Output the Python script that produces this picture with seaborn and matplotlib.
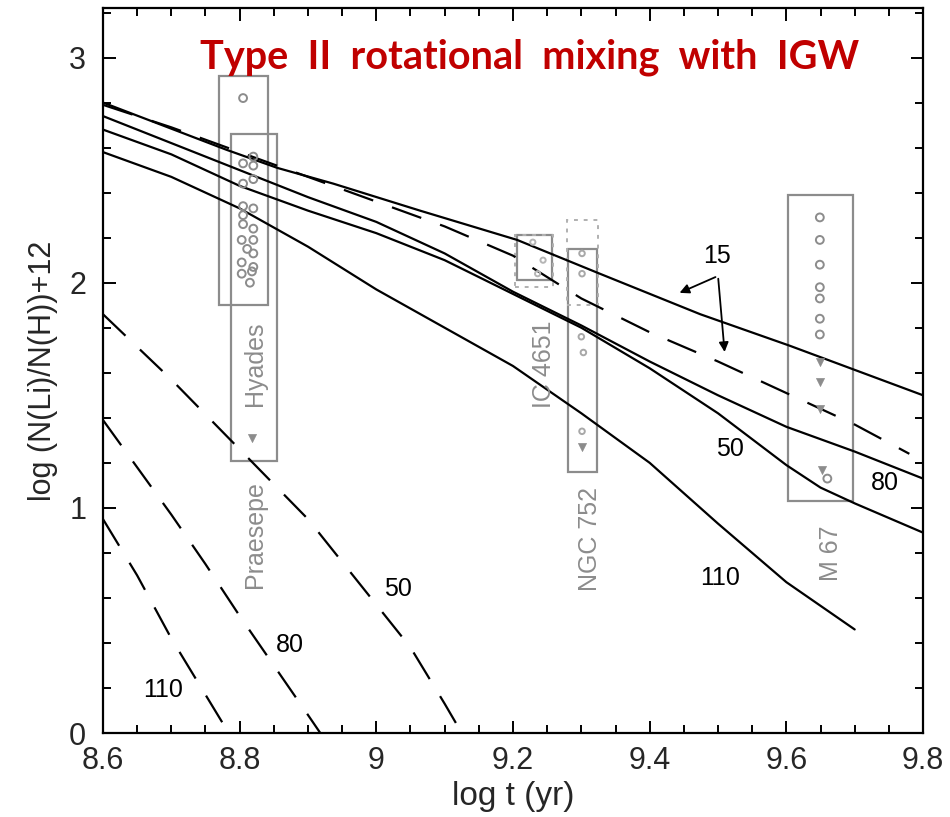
import numpy as np
import pandas as pd
import seaborn as sns
import matplotlib.pyplot as plt
from matplotlib.patches import Rectangle
from matplotlib.ticker import MultipleLocator

# --- model tracks with IGW (solid), label = initial velocity (km/s)
t_15 = [8.6, 8.669, 8.781, 8.855, 8.937, 9.064, 9.206, 9.327, 9.474, 9.605, 9.8]
li_15 = [2.80, 2.72, 2.59, 2.51, 2.44, 2.32, 2.19, 2.04, 1.86, 1.72, 1.50]

t_50 = [8.6, 8.7, 8.8, 8.9, 9.0, 9.1, 9.2, 9.3, 9.4, 9.5, 9.6, 9.7, 9.8]
li_50 = [2.74, 2.62, 2.50, 2.38, 2.27, 2.13, 1.96, 1.81, 1.65, 1.50, 1.36, 1.25, 1.13]

t_80 = [8.6, 8.7, 8.8, 8.9, 9.0, 9.1, 9.2, 9.3, 9.4, 9.5, 9.6, 9.65, 9.7, 9.8]
li_80 = [2.68, 2.57, 2.43, 2.32, 2.22, 2.10, 1.95, 1.80, 1.62, 1.42, 1.19, 1.09, 1.02, 0.89]

t_110 = [8.6, 8.7, 8.8, 8.9, 9.0, 9.1, 9.2, 9.3, 9.4, 9.5, 9.6, 9.7]
li_110 = [2.58, 2.47, 2.33, 2.16, 1.97, 1.80, 1.63, 1.42, 1.20, 0.93, 0.67, 0.46]

# --- dashed tracks (no IGW)
td_15 = [8.6, 8.7, 8.8, 8.9, 9.0, 9.1, 9.2, 9.3, 9.4, 9.5, 9.6, 9.7, 9.78]
lid_15 = [2.79, 2.69, 2.58, 2.47, 2.36, 2.25, 2.12, 1.93, 1.78, 1.65, 1.51, 1.37, 1.24]

td_50 = [8.6, 8.7, 8.8, 8.9, 9.0, 9.05, 9.1, 9.125]
lid_50 = [1.86, 1.57, 1.26, 0.95, 0.57, 0.38, 0.13, 0.0]

td_80 = [8.6, 8.65, 8.7, 8.75, 8.8, 8.85, 8.9, 8.918]
lid_80 = [1.39, 1.18, 0.97, 0.75, 0.52, 0.30, 0.08, 0.0]

td_110 = [8.6, 8.65, 8.7, 8.75, 8.784]
lid_110 = [0.95, 0.70, 0.42, 0.17, 0.0]

# --- cluster observations
hy_t = [8.805, 8.820, 8.805, 8.820, 8.805, 8.820, 8.805, 8.820, 8.805, 8.805,
        8.820, 8.803, 8.820, 8.811, 8.820, 8.803, 8.820, 8.803, 8.818, 8.815]
hy_li = [2.82, 2.56, 2.53, 2.52, 2.44, 2.46, 2.34, 2.33, 2.30, 2.26,
         2.24, 2.19, 2.19, 2.15, 2.13, 2.09, 2.07, 2.04, 2.05, 2.00]
hy_up_t = [8.818]
hy_up_li = [1.31]

ic_t = [9.229, 9.244, 9.236]
ic_li = [2.18, 2.10, 2.04]

ngc_t = [9.301, 9.301, 9.300, 9.303, 9.301]
ngc_li = [2.13, 2.04, 1.76, 1.69, 1.34]
ngc_up_t = [9.301]
ngc_up_li = [1.27]

m67_t = [9.649, 9.649, 9.649, 9.649, 9.649, 9.649, 9.649, 9.660]
m67_li = [2.29, 2.19, 2.08, 1.98, 1.93, 1.84, 1.77, 1.13]
m67_up_t = [9.649, 9.649, 9.649, 9.652]
m67_up_li = [1.65, 1.56, 1.44, 1.17]

sns.set_theme(style="ticks")
plt.rcParams['font.family'] = ['Liberation Sans', 'DejaVu Sans']

fig = plt.figure(figsize=(9.5, 8.17), dpi=100)
ax = fig.add_axes([0.1084, 0.1028, 0.8632, 0.8874])

gray = '#8c8c8c'
dash = (0, (14, 9))

for t, li in [(t_15, li_15), (t_50, li_50), (t_80, li_80), (t_110, li_110)]:
    sns.lineplot(x=t, y=li, color='black', linewidth=1.6, ax=ax)
for t, li in [(td_15, lid_15), (td_50, lid_50), (td_80, lid_80), (td_110, lid_110)]:
    sns.lineplot(x=t, y=li, color='black', linewidth=1.6, linestyle=dash, ax=ax)

# cluster boxes
boxes = [(8.770, 1.90, 0.071, 1.02), (8.787, 1.21, 0.068, 1.45),
         (9.206, 2.01, 0.051, 0.20), (9.281, 1.16, 0.042, 0.99),
         (9.603, 1.03, 0.095, 1.36)]
for x0, y0, w, h in boxes:
    ax.add_patch(Rectangle((x0, y0), w, h, fill=False, ec=gray, lw=1.6))
ax.add_patch(Rectangle((9.203, 1.98), 0.056, 0.23, fill=False, ec='#b0b0b0', lw=1.4, ls=(0, (2, 3))))
ax.add_patch(Rectangle((9.279, 1.90), 0.046, 0.38, fill=False, ec='#b0b0b0', lw=1.4, ls=(0, (2, 3))))

# data points
circ = dict(marker='o', s=32, facecolor='none', edgecolor=gray, linewidth=1.4, ax=ax, zorder=3)
tri = dict(marker='v', s=34, color=gray, edgecolor=gray, ax=ax, zorder=3)
sns.scatterplot(x=hy_t, y=hy_li, **circ)
sns.scatterplot(x=ic_t, y=ic_li, **dict(circ, edgecolor='#b5b5b5', s=14))
sns.scatterplot(x=ngc_t, y=ngc_li, **dict(circ, edgecolor='#a8a8a8', s=16))
sns.scatterplot(x=m67_t, y=m67_li, **circ)
sns.scatterplot(x=hy_up_t, y=hy_up_li, **tri)
sns.scatterplot(x=ngc_up_t, y=ngc_up_li, **tri)
sns.scatterplot(x=m67_up_t, y=m67_up_li, **tri)

# cluster names
for name, x, y in [('Hyades', 8.822, 1.64), ('Praesepe', 8.822, 0.88),
                   ('IC 4651', 9.245, 1.64), ('NGC 752', 9.313, 0.86),
                   ('M 67', 9.665, 0.80)]:
    ax.text(x, y, name, rotation=90, color=gray, fontsize=18,
            ha='center', va='center')

# curve labels
for lab, x, y in [('15', 9.498, 2.12), ('50', 9.518, 1.26), ('80', 9.744, 1.11),
                  ('110', 9.503, 0.69), ('50', 9.032, 0.64), ('80', 8.874, 0.39),
                  ('110', 8.688, 0.19)]:
    ax.text(x, y, lab, fontsize=18, ha='center', va='center', color='black')

arrow = dict(arrowstyle='-|>', color='black', lw=1.3, mutation_scale=14)
ax.annotate('', xy=(9.44, 1.95), xytext=(9.50, 2.03), arrowprops=arrow)
ax.annotate('', xy=(9.51, 1.68), xytext=(9.50, 2.03), arrowprops=arrow)

ax.text(8.742, 3.0, 'Type  II  rotational  mixing  with  IGW', color='#c00000',
        fontsize=28.5, fontweight='bold', family=['Lato', 'DejaVu Sans'],
        ha='left', va='center')

ax.set_xlim(8.6, 9.8)
ax.set_ylim(0, 3.22)
ax.xaxis.set_major_locator(MultipleLocator(0.2))
ax.xaxis.set_minor_locator(MultipleLocator(0.05))
ax.yaxis.set_major_locator(MultipleLocator(1))
ax.yaxis.set_minor_locator(MultipleLocator(0.2))
ax.set_xticks([8.6, 8.8, 9.0, 9.2, 9.4, 9.6, 9.8])
ax.set_xticklabels(['8.6', '8.8', '9', '9.2', '9.4', '9.6', '9.8'])
ax.tick_params(which='both', direction='in', top=True, right=True, width=1.4, color='black')
ax.tick_params(which='major', length=9, labelsize=22, pad=9)
ax.tick_params(axis='y', which='major', pad=12)
ax.tick_params(which='minor', length=5.5)
for sp in ax.spines.values():
    sp.set_linewidth(1.6)
    sp.set_color('black')

ax.set_xlabel('log t (yr)', fontsize=24, labelpad=4)
ax.set_ylabel('log (N(Li)/N(H))+12', fontsize=22, labelpad=8)

fig.savefig('out.png', dpi=100)
